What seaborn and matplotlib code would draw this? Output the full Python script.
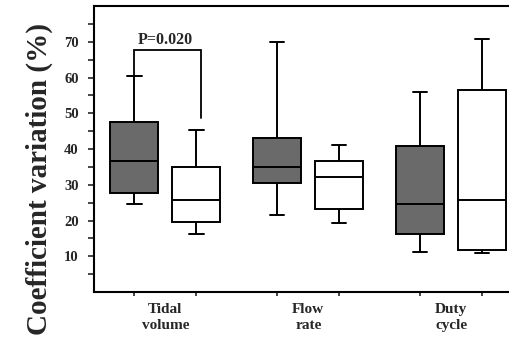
import matplotlib
matplotlib.use("Agg")
import matplotlib.pyplot as plt
import seaborn as sns
import pandas as pd
from matplotlib.ticker import FixedLocator, NullFormatter

# Five-number summaries (min, Q1, median, Q3, max) for each parameter and group
categories = ["Tidal\nvolume", "Flow\nrate", "Duty\ncycle"]
groups = ["A", "B"]
group_a = [
    [24.6, 27.6, 36.6, 47.5, 60.5],
    [21.6, 30.5, 35.0, 43.0, 69.9],
    [11.2, 16.2, 24.6, 40.8, 55.9],
]
group_b = [
    [16.2, 19.6, 25.8, 35.0, 45.4],
    [19.2, 23.3, 32.1, 36.6, 41.2],
    [10.8, 11.7, 25.8, 56.6, 70.7],
]
p_label = "P=0.020"
y_label = "Coefficient variation (%)"

rows = []
for cat, a_vals, b_vals in zip(categories, group_a, group_b):
    for v in a_vals:
        rows.append((cat, "A", v))
    for v in b_vals:
        rows.append((cat, "B", v))
df = pd.DataFrame(rows, columns=["param", "group", "value"])

sns.set_style("ticks")
plt.rcParams["font.family"] = ["Liberation Serif", "DejaVu Serif"]
plt.rcParams["font.weight"] = "bold"

fig = plt.figure(figsize=(5.09, 3.38), dpi=100)
ax = fig.add_axes([0.1847, 0.1361, 0.8418, 0.8461])

box_w = 0.868
sns.boxplot(
    data=df, x="param", y="value", hue="group", order=categories,
    hue_order=groups, palette={"A": "#6a6a6a", "B": "white"},
    width=box_w, gap=0.226, whis=(0, 100), linecolor="black",
    linewidth=1.4, legend=False, ax=ax, saturation=1,
)

# narrower whisker caps (caps are the short horizontal segments)
for line in ax.lines:
    xd = line.get_xdata()
    yd = line.get_ydata()
    if len(xd) == 2 and yd[0] == yd[1]:
        span = abs(xd[1] - xd[0])
        if 0 < span < 0.25:
            c = (xd[0] + xd[1]) / 2
            line.set_xdata([c - 0.05, c + 0.05])

ax.set_xlim(-0.5, 2.5)
ax.set_ylim(0, 80)
ax.set_xlabel("")
ax.set_ylabel(y_label, fontsize=21, fontweight="bold")
ax.yaxis.set_label_coords(-0.095, 0.395)

ax.yaxis.set_major_locator(FixedLocator([10, 20, 30, 40, 50, 60, 70]))
ax.yaxis.set_minor_locator(FixedLocator([5, 15, 25, 35, 45, 55, 65, 75]))
ax.tick_params(axis="y", which="both", direction="out", length=4, width=1.2,
               labelsize=10.5, pad=7)

off = box_w / 4
ax.xaxis.set_major_locator(FixedLocator([i + d for i in range(3) for d in (-off, off)]))
ax.xaxis.set_major_formatter(NullFormatter())
ax.xaxis.set_minor_locator(FixedLocator([0, 1, 2]))
ax.set_xticklabels(categories, minor=True, fontsize=11, fontweight="bold",
                   linespacing=1.25)
ax.tick_params(axis="x", which="major", direction="out", length=3, width=1.2)
ax.tick_params(axis="x", which="minor", length=0, pad=8)
for lab in ax.get_yticklabels():
    lab.set_fontweight("bold")

for side in ["left", "bottom", "top"]:
    ax.spines[side].set_visible(True)
    ax.spines[side].set_linewidth(1.5)
    ax.spines[side].set_color("black")
ax.spines["right"].set_visible(False)

# significance bracket between the tidal volume boxes
x_left, x_right = -off, off + 0.03
ax.plot([x_left, x_left, x_right, x_right], [60.5, 67.8, 67.8, 48.7],
        color="black", lw=1.3, solid_joinstyle="miter")
ax.text(0, 69.4, p_label, ha="center", va="baseline", fontsize=11.5,
        fontweight="bold")

fig.savefig("out.png", dpi=100)
